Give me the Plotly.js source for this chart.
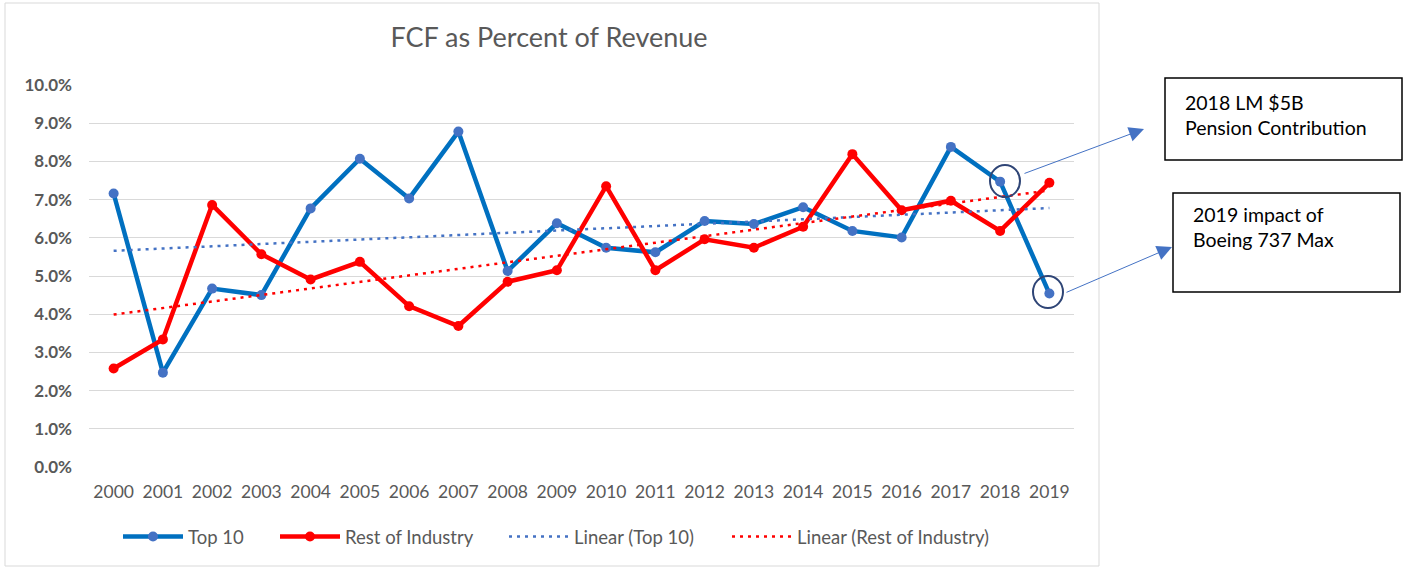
<!DOCTYPE html>
<html>
<head>
<meta charset="utf-8">
<script src="https://cdn.plot.ly/plotly-3.0.1.min.js"></script>
<style>html,body{margin:0;padding:0;background:#fff;}#chart{width:1404px;height:569px;}</style>
</head>
<body>
<div id="chart"></div>
<script>
// ---- data (percent of revenue) ----
const years = ['2000','2001','2002','2003','2004','2005','2006','2007','2008','2009',
               '2010','2011','2012','2013','2014','2015','2016','2017','2018','2019'];
const top10 = [7.16, 2.47, 4.67, 4.50, 6.77, 8.07, 7.03, 8.78, 5.13, 6.38,
               5.74, 5.62, 6.44, 6.36, 6.80, 6.18, 6.01, 8.38, 7.47, 4.54];
const restOfIndustry = [2.58, 3.34, 6.86, 5.57, 4.91, 5.37, 4.21, 3.69, 4.85, 5.15,
                        7.35, 5.15, 5.96, 5.74, 6.29, 8.19, 6.72, 6.97, 6.18, 7.44];
const trendYears = ['2000','2019'];
const trendTop10 = [5.66, 6.78];
const trendRest = [3.99, 7.24];
const yTicks = [0,1,2,3,4,5,6,7,8,9,10];
const yTickText = ['0.0%','1.0%','2.0%','3.0%','4.0%','5.0%','6.0%','7.0%','8.0%','9.0%','10.0%'];
const note1 = '2018 LM $5B<br>Pension Contribution';
const note2 = '2019 impact of<br>Boeing 737 Max';

// ---- layout helpers (pixel -> paper) ----
const W = 1404, H = 569, ML = 89, MR = 330, MT = 85, MB = 102;
const PW = W - ML - MR, PH = H - MT - MB;
const px = v => (v - ML) / PW;
const py = v => (H - MB - v) / PH;
const FONT = 'Lato, "Open Sans", sans-serif';
const GREY = '#595959';

const traces = [
  {x: years, y: top10, name: 'Top 10', type: 'scatter', mode: 'lines+markers', legend: 'legend',
   line: {color: '#0070C0', width: 4.5}, marker: {color: '#4472C4', size: 10}},
  {x: years, y: restOfIndustry, name: 'Rest of Industry', type: 'scatter', mode: 'lines+markers', legend: 'legend2',
   line: {color: '#FF0000', width: 4.5}, marker: {color: '#FF0000', size: 10}},
  {x: trendYears, y: trendTop10, name: 'Linear (Top 10)', type: 'scatter', mode: 'lines', legend: 'legend3',
   line: {color: '#4472C4', width: 2.5, dash: '3px,5px'}},
  {x: trendYears, y: trendRest, name: 'Linear (Rest of Industry)', type: 'scatter', mode: 'lines', legend: 'legend4',
   line: {color: '#FF0000', width: 2.5, dash: '3px,5px'}}
];

const shapes = [
  {type: 'rect', xref: 'paper', yref: 'paper', x0: px(5), x1: px(1099), y0: py(566), y1: py(3),
   line: {color: '#D9D9D9', width: 1}, layer: 'below'},
  {type: 'circle', xref: 'paper', yref: 'paper', x0: px(990), x1: px(1020), y0: py(197), y1: py(165),
   line: {color: '#2F4576', width: 2}},
  {type: 'circle', xref: 'paper', yref: 'paper', x0: px(1033), x1: px(1063), y0: py(308), y1: py(276),
   line: {color: '#2F4576', width: 2}},
  {type: 'rect', xref: 'paper', yref: 'paper', x0: px(1165), x1: px(1402), y0: py(160), y1: py(78),
   line: {color: '#000000', width: 1.5}, fillcolor: '#FFFFFF'},
  {type: 'rect', xref: 'paper', yref: 'paper', x0: px(1173), x1: px(1400), y0: py(292), y1: py(193),
   line: {color: '#000000', width: 1.5}, fillcolor: '#FFFFFF'}
];

const annotations = [
  {xref: 'paper', yref: 'paper', x: px(1144), y: py(129), ax: -121, ay: 45, text: '',
   showarrow: true, arrowhead: 2, arrowsize: 3, arrowwidth: 1, arrowcolor: '#4472C4'},
  {xref: 'paper', yref: 'paper', x: px(1172), y: py(247), ax: -107, ay: 46, text: '',
   showarrow: true, arrowhead: 2, arrowsize: 3, arrowwidth: 1, arrowcolor: '#4472C4'},
  {xref: 'paper', yref: 'paper', x: px(1183), y: py(89), xanchor: 'left', yanchor: 'top',
   text: note1, showarrow: false, align: 'left', font: {family: FONT, size: 19.5, color: '#000'}},
  {xref: 'paper', yref: 'paper', x: px(1191), y: py(201), xanchor: 'left', yanchor: 'top',
   text: note2, showarrow: false, align: 'left', font: {family: FONT, size: 19.5, color: '#000'}}
];

const legBase = {orientation: 'h', xanchor: 'left', yanchor: 'middle', y: py(537),
                 font: {family: FONT, size: 18.5, color: GREY}, bgcolor: 'rgba(0,0,0,0)', itemwidth: 60};

const layout = {
  width: W, height: H,
  margin: {l: ML, r: MR, t: MT, b: MB, pad: 0},
  paper_bgcolor: '#FFFFFF', plot_bgcolor: '#FFFFFF',
  font: {family: FONT, color: GREY},
  title: {text: 'FCF as Percent of Revenue', font: {family: FONT, size: 27, color: GREY},
          xref: 'container', x: 549 / W, xanchor: 'center', yref: 'container', y: 1 - 38 / H, yanchor: 'middle'},
  xaxis: {type: 'category', range: [-0.5, 19.5], showgrid: false, zeroline: false, showline: false,
          ticks: '', tickfont: {family: FONT, size: 17.5, color: GREY}, ticklabelstandoff: 12, fixedrange: true},
  yaxis: {range: [0, 10], tickvals: yTicks, ticktext: yTickText, showgrid: true,
          gridcolor: '#D9D9D9', gridwidth: 1.3, zeroline: false, showline: false, ticks: '',
          tickfont: {family: FONT, size: 17, color: GREY, weight: 'bold'}, ticklabelstandoff: 16, fixedrange: true},
  showlegend: true,
  legend: Object.assign({}, legBase, {x: px(118)}),
  legend2: Object.assign({}, legBase, {x: px(275)}),
  legend3: Object.assign({}, legBase, {x: px(504)}),
  legend4: Object.assign({}, legBase, {x: px(727)}),
  shapes: shapes,
  annotations: annotations,
  hovermode: false
};

Plotly.newPlot('chart', traces, layout, {displayModeBar: false, responsive: false});
</script>
</body>
</html>
